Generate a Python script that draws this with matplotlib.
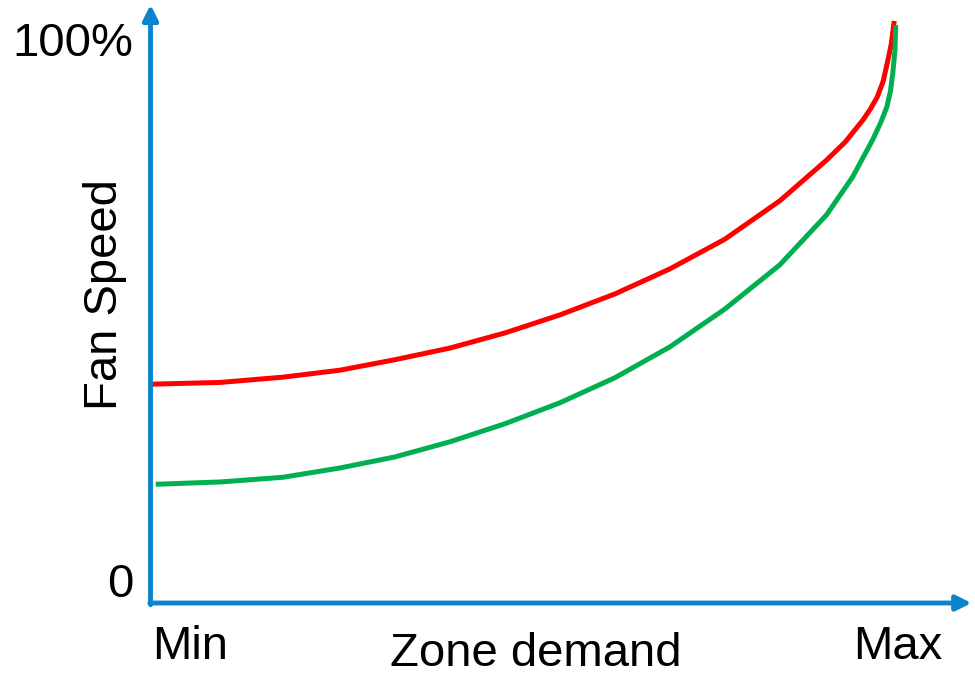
import matplotlib.pyplot as plt

plt.rcParams['font.family'] = ['Liberation Sans', 'DejaVu Sans']

# zone demand (0 = Min, 100 = Max) and fan speed (% of max)
demand_red = [0, 9.2, 17.6, 25.3, 32.7, 40.1, 47.5, 54.9, 62.3, 69.7, 77.1,
              84.5, 90.8, 93.3, 95.7, 96.7, 97.6, 98.4, 98.9, 99.5, 99.9]
speed_red = [37.6, 37.9, 38.8, 40.0, 41.8, 43.8, 46.4, 49.5, 53.1, 57.4, 62.5,
             69.1, 76.1, 79.2, 83.0, 84.9, 86.9, 89.6, 92.4, 96.0, 100.0]

demand_green = [0.5, 9.2, 17.6, 25.3, 32.7, 40.1, 47.5, 54.9, 62.3, 69.7, 77.1,
                84.5, 90.8, 94.3, 97.0, 98.1, 98.9, 99.4, 99.7, 100.0, 100.1]
speed_green = [20.4, 20.8, 21.6, 23.2, 25.1, 27.7, 30.8, 34.4, 38.7, 44.0, 50.5,
               58.1, 66.7, 73.2, 79.6, 82.6, 85.2, 88.0, 91.0, 95.0, 99.3]

blue = '#0a84cc'

fig = plt.figure(figsize=(9.75, 6.77), dpi=100)
ax = fig.add_axes([0, 0, 1, 1])
ax.set_xlim(-20.46, 110.77)
ax.set_ylim(-12.71, 103.6)
ax.axis('off')

# axes with arrow heads
ax.annotate('', xy=(110.3, 0), xytext=(-0.3, 0),
            arrowprops=dict(arrowstyle='-|>,head_length=0.9,head_width=0.45',
                            color=blue, lw=3.5, shrinkA=0, shrinkB=0))
ax.annotate('', xy=(-0.2, 102.8), xytext=(-0.2, -0.3),
            arrowprops=dict(arrowstyle='-|>,head_length=0.9,head_width=0.45',
                            color=blue, lw=3.5, shrinkA=0, shrinkB=0))

ax.plot(demand_red, speed_red, color='#ff0000', lw=3.6,
        solid_capstyle='butt', solid_joinstyle='round')
ax.plot(demand_green, speed_green, color='#00b050', lw=3.6,
        solid_capstyle='butt', solid_joinstyle='round')

fs = 34
ax.text(-2.5, 96.0, '100%', fontsize=fs, ha='right', va='center')
ax.text(-2.5, 3.1, '0', fontsize=fs, ha='right', va='center')
ax.text(0, -7.6, 'Min', fontsize=fs, ha='left', va='center')
ax.text(100.4, -7.6, 'Max', fontsize=fs, ha='center', va='center')
ax.text(51.6, -8.8, 'Zone demand', fontsize=fs, ha='center', va='center')
ax.text(-6.3, 53.0, 'Fan Speed', fontsize=fs, ha='center', va='center',
        rotation=90)

fig.savefig('out.png', dpi=100)
